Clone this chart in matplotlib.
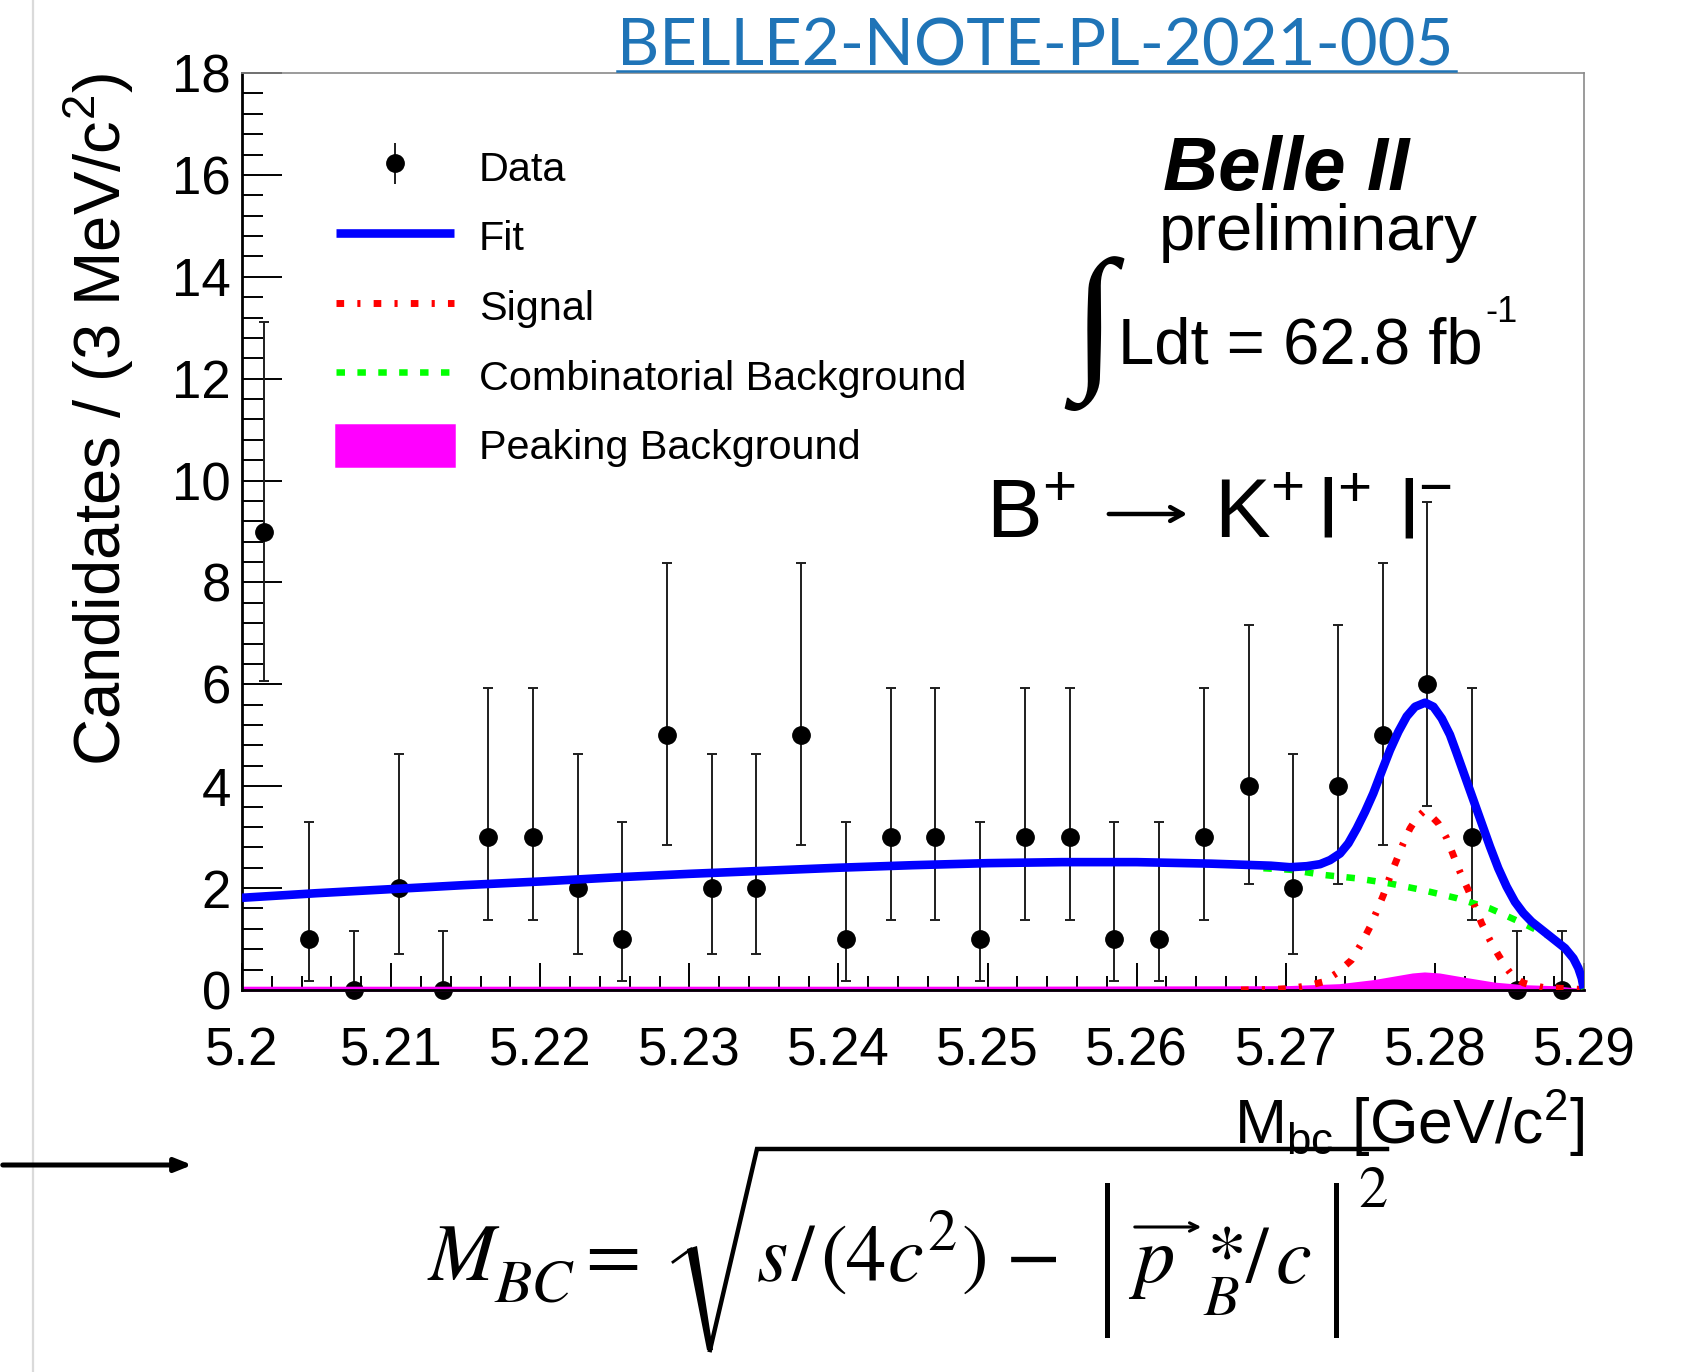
import matplotlib
matplotlib.use('Agg')
import matplotlib.pyplot as plt
from matplotlib.lines import Line2D
from matplotlib.patches import Polygon
from matplotlib.container import ErrorbarContainer
from matplotlib.legend_handler import HandlerErrorbar
from matplotlib.ticker import MultipleLocator, FixedLocator, FixedFormatter

W, H = 1696, 1372

# candidates per 3 MeV/c^2 bin
bin_centers = [5.2015, 5.2045, 5.2075, 5.2105, 5.2135, 5.2165, 5.2195, 5.2225, 5.2255, 5.2285,
               5.2315, 5.2345, 5.2375, 5.2405, 5.2435, 5.2465, 5.2495, 5.2525, 5.2555, 5.2585,
               5.2615, 5.2645, 5.2675, 5.2705, 5.2735, 5.2765, 5.2795, 5.2825, 5.2855, 5.2885]
counts = [9, 1, 0, 2, 0, 3, 3, 2, 1, 5,
          2, 2, 5, 1, 3, 3, 1, 3, 3, 1,
          1, 3, 4, 2, 4, 5, 6, 3, 0, 0]

# poisson error band ends (lower, upper) per count
err_band = {0: (0.0, 1.15), 1: (0.17, 3.30), 2: (0.71, 4.64), 3: (1.37, 5.92),
            4: (2.09, 7.16), 5: (2.84, 8.38), 6: (3.62, 9.58), 9: (6.06, 13.11)}

# fit curves
fit_x = [5.2000, 5.2050, 5.2100, 5.2150, 5.2200, 5.2250, 5.2300, 5.2350, 5.2400, 5.2450,
         5.2500, 5.2550, 5.2600, 5.2650, 5.2690, 5.27028, 5.27140, 5.27230, 5.27297, 5.27364,
         5.27420, 5.27476, 5.27532, 5.27587, 5.27643, 5.27699, 5.27755, 5.27811, 5.27867, 5.27934,
         5.27990, 5.28046, 5.28101, 5.28146, 5.28202, 5.28258, 5.28314, 5.28370, 5.28425, 5.28481,
         5.28537, 5.28593, 5.28649, 5.28705, 5.28761, 5.28817, 5.28873, 5.28929, 5.28962, 5.28985,
         5.28998]
fit_y = [1.81, 1.90, 1.98, 2.06, 2.13, 2.21, 2.28, 2.34, 2.40, 2.45,
         2.49, 2.51, 2.51, 2.48, 2.44, 2.41, 2.43, 2.47, 2.55, 2.68,
         2.88, 3.17, 3.50, 3.86, 4.29, 4.71, 5.07, 5.37, 5.56, 5.64,
         5.56, 5.33, 5.01, 4.65, 4.19, 3.73, 3.27, 2.81, 2.39, 2.03,
         1.73, 1.51, 1.34, 1.21, 1.08, 0.95, 0.82, 0.62, 0.43, 0.23,
         0.03]

sig_x = [5.2670, 5.2690, 5.27028, 5.27140, 5.27252, 5.27341, 5.27442, 5.27509, 5.27565, 5.27609,
         5.27654, 5.27699, 5.27743, 5.27788, 5.27833, 5.27877, 5.27922, 5.27967, 5.28023, 5.28079,
         5.28123, 5.28168, 5.28224, 5.28269, 5.28313, 5.28369, 5.28425, 5.28481, 5.28526, 5.28593,
         5.28638, 5.28727, 5.28995]
sig_y = [0.00, 0.01, 0.03, 0.08, 0.16, 0.33, 0.59, 0.92, 1.24, 1.54,
         1.86, 2.23, 2.55, 2.88, 3.17, 3.37, 3.50, 3.44, 3.27, 2.98,
         2.65, 2.32, 1.96, 1.64, 1.31, 0.98, 0.69, 0.43, 0.26, 0.14,
         0.10, 0.05, 0.01]

comb_x = [5.2685, 5.2703, 5.2725, 5.2748, 5.2770, 5.2792, 5.2815, 5.2837, 5.2859, 5.2882,
          5.2891, 5.2896, 5.2900]
comb_y = [2.39, 2.36, 2.26, 2.19, 2.09, 1.96, 1.80, 1.60, 1.31, 0.98,
          0.70, 0.45, 0.02]

peak_x = [5.2000, 5.2500, 5.2700, 5.2736, 5.2759, 5.2775, 5.2785, 5.2793, 5.2803, 5.2819,
          5.2840, 5.2860, 5.2880, 5.2900]
peak_y = [0.05, 0.05, 0.06, 0.10, 0.18, 0.26, 0.31, 0.33, 0.31, 0.23,
          0.13, 0.08, 0.06, 0.00]

xtick_vals = [5.20, 5.21, 5.22, 5.23, 5.24, 5.25, 5.26, 5.27, 5.28, 5.29]
xtick_labels = ['5.2', '5.21', '5.22', '5.23', '5.24', '5.25', '5.26', '5.27', '5.28', '5.29']
ytick_vals = [0, 2, 4, 6, 8, 10, 12, 14, 16, 18]

legend_labels = ['Data', 'Fit', 'Signal', 'Combinatorial Background', 'Peaking Background']

plt.rcParams['font.family'] = ['Liberation Sans', 'DejaVu Sans']


def no_caps(leg_artist, orig):
    # legend entry for data shows the bar but no caps
    leg_artist.update_from(orig)
    if isinstance(orig, Line2D) and orig.get_marker() == '_':
        leg_artist.set_visible(False)


fig = plt.figure(figsize=(W / 100, H / 100), dpi=100)
ax = fig.add_axes([242 / W, (H - 990) / H, (1584 - 242) / W, (990 - 73) / H])

lo = [c - err_band[c][0] for c in counts]
hi = [err_band[c][1] - c for c in counts]
eb = ax.errorbar(bin_centers, counts, yerr=[lo, hi], fmt='o', color='black', ms=12.5,
                 ecolor='#1e1e1e', elinewidth=1.4, capsize=3.5, capthick=1.4,
                 zorder=2.0, clip_on=False)

peak_fill = ax.fill_between(peak_x, 0, peak_y, facecolor='#ff00ff', edgecolor='#ff00ff',
                            lw=1.8, zorder=2.2, clip_on=False)
comb_ln, = ax.plot(comb_x, comb_y, color='#00ff00', lw=4.7, ls=(0, (1.3, 1.9)),
                   dash_capstyle='butt', zorder=3.0)
sig_ln, = ax.plot(sig_x, sig_y, color='#ff0000', lw=5.0, ls=(0, (1.1, 1.9, 0.45, 1.9)),
                  dash_capstyle='butt', zorder=3.1)
fit_ln, = ax.plot(fit_x, fit_y, color='#0000ff', lw=6.2, zorder=3.2,
                  solid_joinstyle='round', solid_capstyle='butt')

ax.set_xlim(5.2, 5.29)
ax.set_ylim(0, 18)
ax.xaxis.set_major_locator(FixedLocator(xtick_vals))
ax.xaxis.set_major_formatter(FixedFormatter(xtick_labels))
ax.xaxis.set_minor_locator(MultipleLocator(0.002))
ax.yaxis.set_major_locator(FixedLocator(ytick_vals))
ax.yaxis.set_minor_locator(MultipleLocator(0.4))
ax.tick_params(axis='x', which='major', direction='in', length=19.4, width=1.4, pad=26,
               labelsize=38, top=False)
ax.tick_params(axis='x', which='minor', direction='in', length=10, width=1.4, top=False)
ax.tick_params(axis='y', which='major', direction='in', length=28.8, width=1.4, pad=8,
               labelsize=38, right=False)
ax.tick_params(axis='y', which='minor', direction='in', length=15, width=1.4, right=False)
for side in ['left', 'bottom']:
    ax.spines[side].set_linewidth(2.0)
for side in ['top', 'right']:
    ax.spines[side].set_color('#8a8a8a')
    ax.spines[side].set_linewidth(1.2)

ax.set_ylabel(r'Candidates / (3 MeV/c$^{\mathregular{2}}$)', fontsize=47, loc='top', va='baseline')
ax.yaxis.set_label_coords(-0.0902, 1.0)
ax.set_xlabel(r'M$_{\mathregular{bc}}$ [GeV/c$^{\mathregular{2}}$]', fontsize=45, loc='right',
              va='baseline')
ax.xaxis.set_label_coords(1.0, -0.168)

ax.legend([eb, fit_ln, sig_ln, comb_ln, peak_fill], legend_labels, loc='upper left',
          bbox_to_anchor=(336 / W, 1 - 146 / H), bbox_transform=fig.transFigure,
          frameon=False, fontsize=29.8, handlelength=2.85, handleheight=1.15,
          handletextpad=0.6, labelspacing=0.655, borderpad=0, borderaxespad=0,
          handler_map={ErrorbarContainer: HandlerErrorbar(update_func=no_caps)})

# overlay in pixel coordinates for the slide decorations
pax = fig.add_axes([0, 0, 1, 1])
pax.set_xlim(0, W)
pax.set_ylim(H, 0)
pax.axis('off')

pax.plot([33, 33], [0, H], color='#dadada', lw=1.6)

# note reference on top
pax.text(617, 66, 'BELLE2-NOTE-PL-2021-005', family='Lato', fontsize=47, color='#1f74b7',
         va='baseline', ha='left')
pax.plot([617, 1456], [71, 71], color='#1f74b7', lw=1.8)

# experiment labels
pax.text(1163, 190, 'Belle II', fontsize=55, fontweight='bold', fontstyle='italic', va='baseline')
pax.text(1159, 250, 'preliminary', fontsize=47, va='baseline')
pax.text(1072, 256, '\u222b', family=['Liberation Serif', 'DejaVu Sans'], fontsize=114,
         va='top', ha='left')
pax.text(1118, 363, 'Ldt = 62.8 fb', fontsize=47, va='baseline')
pax.text(1485, 322, '-1', fontsize=26, va='baseline')

# decay channel, arrow drawn as a thin ROOT style arrow
pax.text(986, 538, r'B$^{\mathregular{+}}$', fontsize=60, va='baseline')
pax.annotate('', xy=(1190, 514), xytext=(1106, 514),
             arrowprops=dict(arrowstyle='->,head_length=0.9,head_width=0.5', color='black', lw=3.2))
pax.text(1214, 538, r'K$^{\mathregular{+}}$', fontsize=60, va='baseline')
pax.text(1318, 538, r'l$^{\mathregular{+}}$', fontsize=60, va='baseline')
pax.text(1399, 538, r'l$^{\mathregular{-}}$', fontsize=60, va='baseline')

# arrow on the left
pax.annotate('', xy=(195, 1165), xytext=(0, 1165),
             arrowprops=dict(arrowstyle='-|>,head_length=1.0,head_width=0.4', color='black', lw=3.6))

# M_BC formula
serif = 'STIXGeneral'
big = 58
pax.text(428, 1280, 'M', family=serif, fontstyle='italic', fontsize=big, va='baseline')
pax.text(494, 1302, 'BC', family=serif, fontstyle='italic', fontsize=44, va='baseline')
pax.text(585, 1280, '=', family=serif, fontsize=big, va='baseline')
pax.add_patch(Polygon([(687, 1249), (697, 1246), (713, 1350), (707, 1350)], closed=True,
                      color='black', lw=0))
pax.plot([673, 691], [1262, 1249], color='black', lw=2.0)
pax.plot([710, 757, 1387], [1350, 1149, 1149], color='black', lw=3.2, solid_joinstyle='miter')
pax.text(757, 1280, 's', family=serif, fontstyle='italic', fontsize=big, va='baseline')
pax.text(792, 1280, '/', family=serif, fontsize=big, va='baseline')
pax.text(820, 1280, '(', family=serif, fontsize=big, va='baseline')
pax.text(846, 1280, '4', family=serif, fontsize=big, va='baseline')
pax.text(888, 1280, 'c', family=serif, fontstyle='italic', fontsize=big, va='baseline')
pax.text(927, 1250, '2', family=serif, fontsize=42, va='baseline')
pax.text(962, 1280, ')', family=serif, fontsize=big, va='baseline')
pax.text(1006, 1280, '\u2212', family=serif, fontsize=big, va='baseline')
pax.plot([1107, 1107], [1185, 1335], color='black', lw=3.6)
pax.plot([1336, 1336], [1185, 1335], color='black', lw=3.6)
pax.text(1134, 1282, 'p', family=serif, fontstyle='italic', fontsize=big, va='baseline')
pax.annotate('', xy=(1204, 1227), xytext=(1132, 1227),
             arrowprops=dict(arrowstyle='->,head_length=0.6,head_width=0.3', color='black', lw=2.2))
pax.text(1207, 1282, '*', family=serif, fontsize=big, va='baseline')
pax.text(1203, 1315, 'B', family=serif, fontstyle='italic', fontsize=42, va='baseline')
pax.text(1246, 1282, '/', family=serif, fontsize=big, va='baseline')
pax.text(1276, 1282, 'c', family=serif, fontstyle='italic', fontsize=big, va='baseline')
pax.text(1358, 1207, '2', family=serif, fontsize=42, va='baseline')

fig.savefig('out.png', dpi=100, facecolor='white')
